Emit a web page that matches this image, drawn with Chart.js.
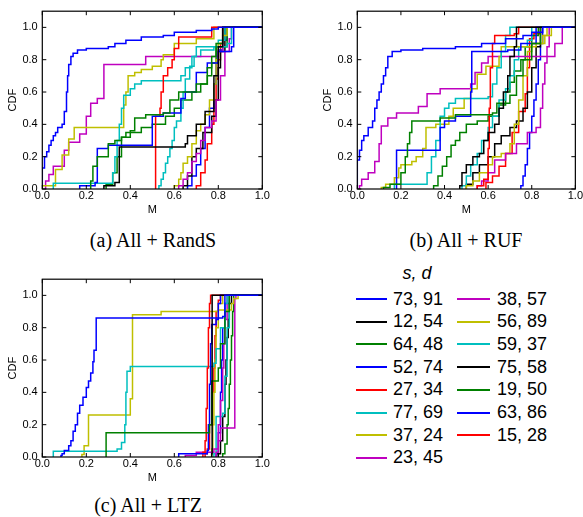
<!DOCTYPE html>
<html><head><meta charset="utf-8">
<script src="https://cdn.jsdelivr.net/npm/chart.js@4"></script>
<style>
html,body{margin:0;padding:0;background:#fff}
body{width:583px;height:517px;position:relative;overflow:hidden;font-family:"Liberation Sans",Arial,sans-serif}
canvas{position:absolute}
.cap{position:absolute;font-family:"Liberation Serif","Times New Roman",serif;font-size:20px;transform:translate(-50%,-50%);white-space:nowrap;color:#000}
.row{position:absolute;height:22px;display:flex;align-items:center;font-size:18px;color:#000;white-space:nowrap}
.sw{display:inline-block;height:2px}
.title{position:absolute;font-size:18px;font-style:italic;transform:translate(-50%,-50%)}
</style>
</head><body>
<canvas id="ca" width="280" height="217" style="left:0;top:0"></canvas>
<canvas id="cb" width="268" height="217" style="left:315px;top:0"></canvas>
<canvas id="cc" width="280" height="217" style="left:0;top:268px"></canvas>
<div class="cap" style="left:153px;top:240px">(a) All + RandS</div>
<div class="cap" style="left:466px;top:240px">(b) All + RUF</div>
<div class="cap" style="left:148px;top:505px">(c) All + LTZ</div>
<div class="title" style="left:417px;top:273px">s, d</div>
<div id="legend"></div>
<script>
// ---- data ----
const seriesLabels = ["73, 91","12, 54","64, 48","52, 74","27, 34","77, 69","37, 24","23, 45",
                      "38, 57","56, 89","59, 37","75, 58","19, 50","63, 86","15, 28"];
const seriesColors = ["#0000ff","#000000","#008000","#0000ff","#ff0000","#00bfbf","#bfbf00","#bf00bf",
                      "#bf00bf","#bfbf00","#00bfbf","#000000","#008000","#0000ff","#ff0000"];
const xTickLabels = ["0.0","0.2","0.4","0.6","0.8","1.0"];
const yTickLabels = ["0.0","0.2","0.4","0.6","0.8","1.0"];

// step points [M, CDF] for each series, panel (a) All + RandS
const randsSteps = [
 [[0,0.13],[0.01,0.2],[0.02,0.23],[0.03,0.27],[0.04,0.3],[0.05,0.33],[0.06,0.35],[0.07,0.38],[0.09,0.4],[0.1,0.48],[0.11,0.6],[0.115,0.7],[0.12,0.77],[0.13,0.82],[0.14,0.84],[0.16,0.86],[0.2,0.87],[0.3,0.88],[0.33,0.9],[0.38,0.92],[0.45,0.94],[0.55,0.95],[0.6,0.97],[0.7,0.98],[0.77,0.99],[0.8,1.0]],
 [[0.28,0.02],[0.33,0.04],[0.35,0.26],[0.65,0.28],[0.66,0.33],[0.7,0.4],[0.74,0.48],[0.78,0.7],[0.8,0.88],[0.82,1.0]],
 [[0.22,0.05],[0.23,0.14],[0.25,0.2],[0.3,0.28],[0.33,0.3],[0.36,0.32],[0.4,0.36],[0.42,0.44],[0.47,0.46],[0.55,0.47],[0.58,0.55],[0.62,0.6],[0.7,0.65],[0.75,0.75],[0.77,0.82],[0.79,0.9],[0.82,1.0]],
 [[0.17,0.02],[0.24,0.04],[0.25,0.25],[0.3,0.27],[0.5,0.45],[0.55,0.47],[0.63,0.56],[0.65,0.6],[0.7,0.72],[0.75,0.78],[0.8,0.85],[0.86,0.88],[0.87,1.0]],
 [[0.515,0.45],[0.535,0.5],[0.54,0.6],[0.55,0.7],[0.57,0.75],[0.59,0.8],[0.6,0.87],[0.62,0.94],[0.77,1.0]],
 [[0.05,0.035],[0.32,0.1],[0.33,0.2],[0.34,0.3],[0.35,0.4],[0.36,0.5],[0.37,0.58],[0.4,0.62],[0.42,0.65],[0.45,0.67],[0.63,0.7],[0.65,0.75],[0.68,0.82],[0.7,0.88],[0.84,0.9],[0.86,1.0]],
 [[0,0.02],[0.06,0.12],[0.09,0.21],[0.12,0.31],[0.145,0.38],[0.37,0.52],[0.38,0.6],[0.39,0.7],[0.42,0.72],[0.45,0.74],[0.5,0.76],[0.54,0.8],[0.55,0.83],[0.6,0.9],[0.7,0.93],[0.78,1.0]],
 [[0.015,0.05],[0.03,0.09],[0.05,0.14],[0.1,0.24],[0.12,0.29],[0.17,0.34],[0.2,0.45],[0.22,0.53],[0.25,0.56],[0.28,0.77],[0.47,0.82],[0.8,0.85],[0.82,1.0]],
 [[0.62,0.02],[0.64,0.06],[0.66,0.1],[0.68,0.17],[0.7,0.22],[0.72,0.3],[0.74,0.38],[0.77,0.42],[0.79,0.55],[0.81,0.7],[0.83,0.85],[0.85,0.93],[0.86,1.0]],
 [[0.6,0.02],[0.62,0.06],[0.63,0.1],[0.64,0.16],[0.66,0.2],[0.68,0.28],[0.7,0.36],[0.72,0.4],[0.74,0.46],[0.76,0.55],[0.78,0.65],[0.79,0.8],[0.8,0.9],[0.82,0.95],[0.84,1.0]],
 [[0.53,0.02],[0.54,0.06],[0.55,0.1],[0.56,0.16],[0.57,0.2],[0.58,0.25],[0.59,0.3],[0.6,0.38],[0.61,0.42],[0.63,0.5],[0.64,0.6],[0.65,0.68],[0.67,0.76],[0.69,0.82],[0.72,0.86],[0.78,0.88],[0.8,0.92],[0.83,1.0]],
 [[0.64,0.02],[0.66,0.08],[0.68,0.2],[0.7,0.25],[0.73,0.35],[0.77,0.45],[0.79,0.55],[0.8,0.75],[0.81,0.85],[0.83,1.0]],
 [[0.29,0.03],[0.32,0.1],[0.34,0.2],[0.36,0.32],[0.38,0.35],[0.45,0.38],[0.5,0.4],[0.56,0.45],[0.6,0.5],[0.63,0.55],[0.68,0.6],[0.72,0.65],[0.75,0.7],[0.77,0.78],[0.79,0.88],[0.84,1.0]],
 [[0.66,0.02],[0.68,0.08],[0.7,0.15],[0.72,0.25],[0.74,0.38],[0.76,0.5],[0.78,0.65],[0.79,0.78],[0.8,0.86],[0.82,0.92],[0.84,1.0]],
 [[0.7,0.02],[0.72,0.1],[0.74,0.18],[0.75,0.28],[0.77,0.4],[0.78,0.55],[0.79,0.68],[0.8,0.8],[0.81,0.9],[0.82,1.0]]
];

// panel (b) All + RUF
const rufSteps = [
 [[0,0.18],[0.01,0.24],[0.02,0.3],[0.03,0.33],[0.05,0.38],[0.07,0.42],[0.08,0.5],[0.09,0.55],[0.1,0.6],[0.11,0.65],[0.12,0.7],[0.13,0.75],[0.14,0.82],[0.16,0.85],[0.2,0.86],[0.3,0.87],[0.45,0.88],[0.57,0.9],[0.68,0.93],[0.76,0.95],[0.8,0.97],[0.85,1.0]],
 [[0.47,0.02],[0.48,0.1],[0.5,0.15],[0.53,0.2],[0.56,0.22],[0.58,0.3],[0.6,0.35],[0.63,0.4],[0.65,0.5],[0.67,0.6],[0.69,0.7],[0.7,0.82],[0.72,0.88],[0.73,1.0]],
 [[0.12,0.01],[0.15,0.03],[0.2,0.1],[0.22,0.2],[0.23,0.28],[0.24,0.35],[0.25,0.42],[0.38,0.44],[0.45,0.46],[0.62,0.47],[0.64,0.53],[0.7,0.58],[0.73,0.7],[0.76,0.8],[0.8,0.9],[0.84,1.0]],
 [[0.18,0.24],[0.38,0.38],[0.4,0.42],[0.45,0.45],[0.52,0.6],[0.525,0.85],[0.69,0.86],[0.75,0.9],[0.82,1.0]],
 [[0.55,0.02],[0.58,0.06],[0.6,0.25],[0.605,0.5],[0.61,0.75],[0.62,0.9],[0.63,0.95],[0.72,0.96],[0.74,1.0]],
 [[0.17,0.03],[0.32,0.1],[0.34,0.2],[0.36,0.3],[0.38,0.45],[0.4,0.5],[0.42,0.53],[0.45,0.56],[0.6,0.57],[0.62,0.65],[0.64,0.75],[0.66,0.85],[0.68,0.95],[0.7,1.0]],
 [[0.11,0.01],[0.13,0.03],[0.17,0.07],[0.19,0.13],[0.2,0.15],[0.25,0.17],[0.27,0.2],[0.3,0.25],[0.315,0.38],[0.36,0.4],[0.42,0.45],[0.44,0.5],[0.49,0.56],[0.52,0.62],[0.55,0.71],[0.59,0.76],[0.65,0.82],[0.66,0.88],[0.82,0.9],[0.86,0.95],[0.89,1.0]],
 [[0.01,0.02],[0.02,0.06],[0.05,0.1],[0.08,0.17],[0.1,0.28],[0.11,0.39],[0.14,0.44],[0.18,0.47],[0.28,0.51],[0.32,0.59],[0.38,0.62],[0.52,0.65],[0.54,0.72],[0.57,0.78],[0.6,0.82],[0.906,0.9],[0.94,1.0]],
 [[0.55,0.02],[0.57,0.05],[0.6,0.1],[0.63,0.18],[0.68,0.22],[0.73,0.28],[0.78,0.35],[0.82,0.38],[0.84,0.5],[0.85,0.65],[0.86,0.78],[0.87,0.88],[0.88,1.0]],
 [[0.5,0.02],[0.53,0.05],[0.56,0.1],[0.6,0.15],[0.62,0.2],[0.66,0.22],[0.7,0.28],[0.72,0.4],[0.74,0.55],[0.76,0.7],[0.78,0.85],[0.8,0.9],[0.85,0.95],[0.87,1.0]],
 [[0.48,0.02],[0.5,0.08],[0.52,0.15],[0.55,0.22],[0.57,0.3],[0.6,0.38],[0.62,0.45],[0.65,0.55],[0.68,0.62],[0.7,0.7],[0.72,0.8],[0.74,0.88],[0.78,0.92],[0.8,1.0]],
 [[0.5,0.03],[0.53,0.1],[0.56,0.15],[0.6,0.2],[0.63,0.28],[0.66,0.33],[0.7,0.38],[0.73,0.42],[0.76,0.5],[0.78,0.6],[0.8,0.75],[0.82,0.88],[0.84,1.0]],
 [[0.35,0.02],[0.37,0.08],[0.39,0.14],[0.41,0.2],[0.43,0.27],[0.45,0.3],[0.47,0.35],[0.5,0.4],[0.55,0.42],[0.6,0.45],[0.65,0.52],[0.68,0.6],[0.7,0.66],[0.72,0.73],[0.75,0.8],[0.77,0.88],[0.8,0.95],[0.83,1.0]],
 [[0.75,0.02],[0.76,0.08],[0.77,0.15],[0.78,0.25],[0.79,0.35],[0.8,0.45],[0.81,0.55],[0.82,0.65],[0.83,0.8],[0.84,0.9],[0.85,1.0]],
 [[0.59,0.04],[0.62,0.08],[0.65,0.14],[0.68,0.22],[0.71,0.35],[0.74,0.48],[0.77,0.59],[0.78,0.75],[0.79,0.93],[0.81,0.96],[0.84,1.0]]
];

// panel (c) All + LTZ
const ltzSteps = [
 [[0.085,0.01],[0.09,0.02],[0.1,0.04],[0.12,0.07],[0.13,0.1],[0.14,0.16],[0.15,0.2],[0.16,0.27],[0.17,0.32],[0.185,0.37],[0.2,0.43],[0.21,0.47],[0.22,0.52],[0.23,0.59],[0.235,0.66],[0.245,0.86],[0.82,0.87],[0.83,1.0]],
 [[0.77,0.02],[0.772,1.0]],
 [[0.29,0.15],[0.76,0.2],[0.77,0.47],[0.8,0.55],[0.81,0.7],[0.83,0.9],[0.85,1.0]],
 [[0.62,0.02],[0.75,0.04],[0.755,0.2],[0.76,0.45],[0.765,0.7],[0.77,0.82],[0.79,0.85],[0.8,0.95],[0.81,1.0]],
 [[0.73,0.03],[0.74,0.1],[0.745,0.3],[0.75,0.55],[0.755,0.8],[0.76,0.95],[0.765,1.0]],
 [[0.05,0.035],[0.34,0.05],[0.36,0.09],[0.375,0.2],[0.38,0.4],[0.385,0.53],[0.4,0.56],[0.78,0.58],[0.79,0.67],[0.81,0.8],[0.83,0.95],[0.84,1.0]],
 [[0.18,0.015],[0.19,0.07],[0.21,0.26],[0.4,0.36],[0.41,0.88],[0.54,0.9],[0.8,0.91],[0.86,0.95],[0.87,0.98],[0.89,1.0]],
 [[0.65,0.01],[0.7,0.03],[0.78,0.05],[0.8,0.2],[0.81,0.35],[0.82,0.55],[0.825,0.7],[0.83,0.85],[0.84,1.0]],
 [[0.79,0.03],[0.8,0.1],[0.81,0.18],[0.875,0.98],[0.88,1.0]],
 [[0.77,0.05],[0.775,0.2],[0.78,0.4],[0.785,0.6],[0.79,0.8],[0.8,0.95],[0.82,1.0]],
 [[0.78,0.02],[0.79,0.25],[0.82,0.27],[0.83,0.5],[0.84,0.8],[0.85,1.0]],
 [[0.8,0.02],[0.81,0.1],[0.82,0.25],[0.83,0.45],[0.835,0.6],[0.84,0.74],[0.845,0.85],[0.85,0.95],[0.86,1.0]],
 [[0.82,0.02],[0.83,0.08],[0.84,0.2],[0.845,0.3],[0.85,0.45],[0.855,0.6],[0.86,0.75],[0.865,0.9],[0.87,1.0]],
 [[0.79,0.02],[0.8,0.15],[0.81,0.4],[0.815,0.6],[0.82,0.8],[0.83,0.95],[0.85,1.0]],
 [[0.74,0.02],[0.75,0.05],[0.76,0.2],[0.77,0.4],[0.78,0.55],[0.785,0.75],[0.79,0.9],[0.8,0.97],[0.81,1.0]]
];

// ---- drawing ----
const FONT = '"Liberation Sans", Arial, sans-serif';
const frameTicks = {
  id: 'frameTicks',
  afterDatasetsDraw(chart) {
    const {ctx, chartArea: a, scales: {x, y}} = chart;
    const L = 4;
    ctx.save();
    ctx.strokeStyle = '#000';
    ctx.lineWidth = 1;
    ctx.beginPath();
    x.ticks.forEach(t => {
      const p = x.getPixelForValue(t.value);
      ctx.moveTo(p, a.bottom); ctx.lineTo(p, a.bottom - L);
      ctx.moveTo(p, a.top); ctx.lineTo(p, a.top + L);
    });
    y.ticks.forEach(t => {
      const p = y.getPixelForValue(t.value);
      ctx.moveTo(a.left, p); ctx.lineTo(a.left + L, p);
      ctx.moveTo(a.right, p); ctx.lineTo(a.right - L, p);
    });
    ctx.stroke();
    ctx.lineWidth = 1.2;
    ctx.strokeRect(a.left, a.top, a.right - a.left, a.bottom - a.top);
    ctx.restore();
  }
};

function makePanel(id, steps, padRight) {
  const datasets = steps.map((s, i) => ({
    label: seriesLabels[i],
    data: [{x: s[0][0], y: 0}].concat(s.map(([m, c]) => ({x: m, y: c}))).concat([{x: 1, y: 1}]),
    borderColor: seriesColors[i],
    borderWidth: 1.5,
    stepped: true,
    pointRadius: 0,
    fill: false
  }));
  new Chart(document.getElementById(id), {
    type: 'line',
    data: {datasets},
    plugins: [frameTicks],
    options: {
      responsive: false,
      animation: false,
      events: [],
      layout: {padding: {top: 8, right: padRight, left: 0, bottom: 0}},
      plugins: {legend: {display: false}, tooltip: {enabled: false}},
      scales: {
        x: {
          type: 'linear', min: 0, max: 1,
          grid: {display: false, drawTicks: false},
          border: {display: false},
          ticks: {stepSize: 0.2, padding: 0, autoSkip: false, maxRotation: 0, color: '#000',
                  font: {size: 11, family: FONT},
                  callback: (v, i) => xTickLabels[i]},
          title: {display: true, text: 'M', color: '#000', font: {size: 11, family: FONT}, padding: 0},
          afterFit(s) { s.height = 28; }
        },
        y: {
          type: 'linear', min: 0, max: 1.1,
          grid: {display: false, drawTicks: false},
          border: {display: false},
          ticks: {stepSize: 0.2, includeBounds: false, padding: 4.6, autoSkip: false, color: '#000',
                  font: {size: 11, family: FONT},
                  callback: (v, i) => yTickLabels[i]},
          title: {display: true, text: 'CDF', color: '#000', font: {size: 11, family: FONT}, padding: {top: 6, bottom: 0}},
          afterFit(s) { s.width = 42.3; }
        }
      }
    }
  });
}

makePanel('ca', randsSteps, 17.7);
makePanel('cb', rufSteps, 5.7);
makePanel('cc', ltzSteps, 17.7);

// legend
const leg = document.getElementById('legend');
const rowY = [299, 321.7, 344.4, 367.1, 389.8, 412.5, 435.2, 457.9];
seriesLabels.forEach((lab, i) => {
  const col = i < 8 ? 0 : 1;
  const r = col === 0 ? i : i - 8;
  const row = document.createElement('div');
  row.className = 'row';
  row.style.left = (col === 0 ? 356 : 457) + 'px';
  row.style.top = (rowY[r] - 11) + 'px';
  const sw = document.createElement('span');
  sw.className = 'sw';
  sw.style.width = (col === 0 ? 31 : 33) + 'px';
  sw.style.background = seriesColors[i];
  sw.style.marginRight = (col === 0 ? 6 : 7) + 'px';
  const tx = document.createElement('span');
  tx.textContent = lab;
  row.appendChild(sw); row.appendChild(tx);
  leg.appendChild(row);
});
</script>
</body></html>
